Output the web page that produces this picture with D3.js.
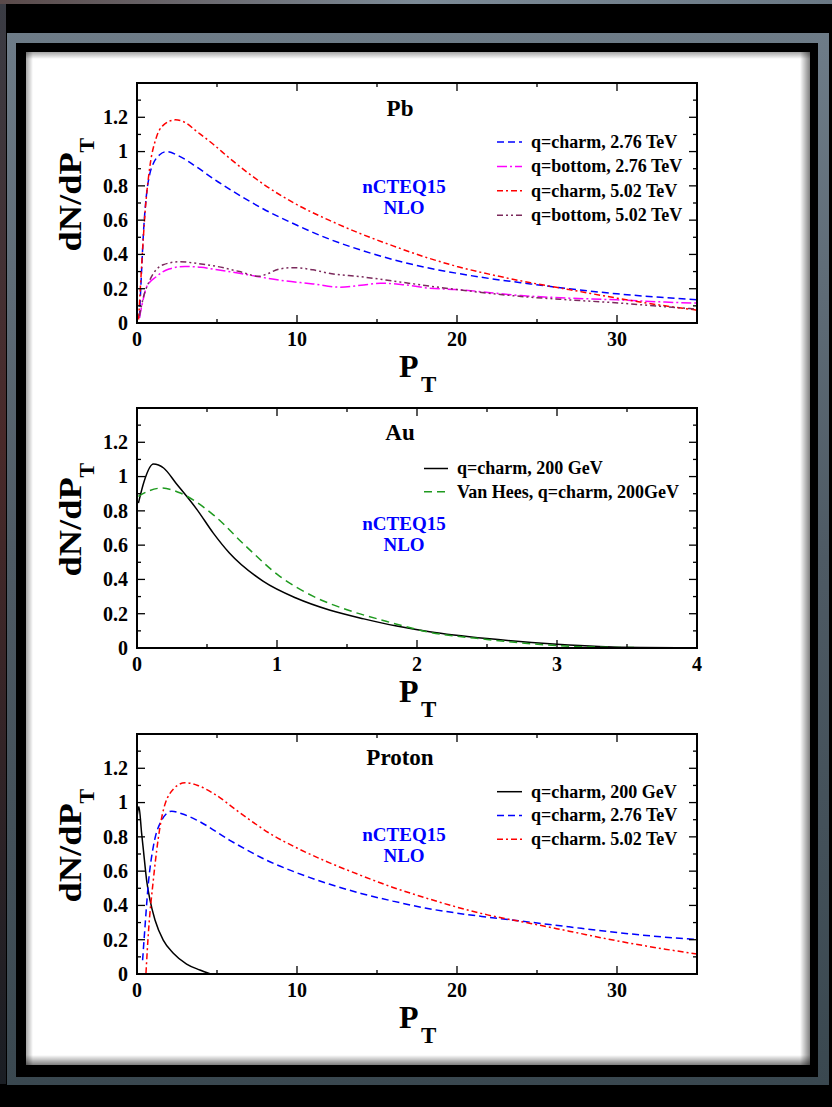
<!DOCTYPE html>
<html><head><meta charset="utf-8">
<script src="https://cdn.jsdelivr.net/npm/d3@7/dist/d3.min.js"></script>
<style>
html,body{margin:0;padding:0;background:#000;}
svg{display:block;}
text{font-family:"Liberation Serif","Times New Roman",serif;font-weight:bold;}
</style></head>
<body>
<script>
// ---------- DATA ----------
// Pb panel (x: PT 0..35)
const pbCharm276X = [0.15,0.3,0.4,0.6,0.8,1.02,1.4,1.86,2.6,3.73,4.8,5.8,7.9,10,12,14,16,18,20,22,24.6,27,30,33,35];
const pbCharm276Y = [0.03,0.33,0.52,0.755,0.87,0.93,0.98,1.0,0.975,0.91,0.84,0.78,0.665,0.57,0.49,0.425,0.37,0.325,0.29,0.26,0.228,0.2,0.17,0.148,0.135];
const pbBottom276X = [0.15,0.3,0.6,1.2,2,3,4,4.8,6.4,7.6,8.9,11,12.7,14,15.2,16.5,18.3,20,24,27,30,33,35];
const pbBottom276Y = [0.03,0.1,0.21,0.27,0.315,0.33,0.325,0.314,0.29,0.27,0.25,0.228,0.209,0.22,0.232,0.225,0.203,0.195,0.16,0.145,0.135,0.122,0.116];
const pbCharm502X = [0.1,0.3,0.5,0.8,1.2,1.6,2.4,3,3.7,4.8,5.8,7.9,10,12,14,16,18,20,22,24.6,27,30,33,35];
const pbCharm502Y = [0.02,0.35,0.64,0.91,1.08,1.15,1.185,1.17,1.12,1.04,0.96,0.81,0.69,0.6,0.52,0.45,0.385,0.33,0.285,0.235,0.195,0.145,0.1,0.075];
const pbBottom502X = [0.15,0.4,0.8,1.64,2.7,3.7,5,6.4,7.6,8.1,8.9,9.8,11,12,14,16,18.3,20,24,27,30.2,33,35];
const pbBottom502Y = [0.04,0.15,0.25,0.34,0.358,0.348,0.33,0.30,0.272,0.285,0.315,0.323,0.31,0.29,0.27,0.245,0.215,0.195,0.155,0.135,0.116,0.095,0.081];

// Au panel (x: PT 0..4)
const auCharm200X = [0.01,0.05,0.117,0.19,0.28,0.43,0.545,0.66,0.9,1.14,1.38,1.62,1.855,2.09,2.5,3.0,3.3,3.6,4.0];
const auCharm200Y = [0.845,0.97,1.073,1.05,0.96,0.806,0.67,0.554,0.39,0.29,0.22,0.17,0.128,0.095,0.055,0.022,0.009,0.003,0.001];
const auVanHeesX = [0.01,0.08,0.176,0.31,0.545,0.78,1.02,1.26,1.5,1.74,2.09,2.5,3.0,3.3,3.6,4.0];
const auVanHeesY = [0.884,0.915,0.933,0.904,0.777,0.592,0.418,0.301,0.223,0.165,0.092,0.05,0.014,0.005,0.002,0.001];

// Proton panel (x: PT 0..35)
const pCharm200X = [0.02,0.12,0.29,0.4,0.6,0.81,1.125,1.64,2.27,3.1,3.93,4.6];
const pCharm200Y = [0.93,0.975,0.82,0.723,0.548,0.432,0.315,0.198,0.121,0.058,0.023,0.0];
const pCharm276X = [0.35,0.5,0.71,1.02,1.44,2.17,2.8,3.73,5.8,8.3,10,12,14,16,18,20,21.9,24.6,27,30.2,33,35];
const pCharm276Y = [0.08,0.276,0.529,0.743,0.879,0.95,0.935,0.898,0.78,0.655,0.59,0.525,0.47,0.425,0.385,0.355,0.332,0.302,0.275,0.24,0.215,0.202];
const pCharm502X = [0.56,0.71,1.02,1.44,2.06,3,3.8,4.77,6.44,8.3,10,12,14,16,18,20,21.9,24.6,27,30.2,33,35];
const pCharm502Y = [0.004,0.237,0.548,0.859,1.054,1.116,1.1,1.054,0.94,0.82,0.735,0.65,0.575,0.505,0.445,0.39,0.345,0.295,0.25,0.19,0.145,0.117];

// Ticks
const yTickLabels = ["0","0.2","0.4","0.6","0.8","1","1.2"];
const xTicksWide = [0,10,20,30];
const xTicksAu = [0,1,2,3,4];

// Legends / labels
const pbLegend = ["q=charm, 2.76 TeV","q=bottom, 2.76 TeV","q=charm, 5.02 TeV","q=bottom, 5.02 TeV"];
const auLegend = ["q=charm, 200 GeV","Van Hees, q=charm, 200GeV"];
const pLegend = ["q=charm, 200 GeV","q=charm, 2.76 TeV","q=charm. 5.02 TeV"];
const panelTitles = ["Pb","Au","Proton"];

// ---------- STYLES ----------
const S = {
  blue:   {stroke:"#0000ff", dash:"7,4"},
  magenta:{stroke:"#ff00ff", dash:"10,3,2,3"},
  red:    {stroke:"#ff0000", dash:"6,3,2,3"},
  purple: {stroke:"#7b2a5c", dash:"6,3,2,3,2,3"},
  black:  {stroke:"#000000", dash:null},
  green:  {stroke:"#1f9a1f", dash:"8,5"}
};

const W = 832, H = 1107;
const svg = d3.select("body").append("svg").attr("width",W).attr("height",H);
const defs = svg.append("defs");

// ---------- FRAME / BACKGROUND ----------
const gFrame = defs.append("linearGradient").attr("id","gframe").attr("x1",0).attr("y1",0).attr("x2",0).attr("y2",1);
gFrame.append("stop").attr("offset","0%").attr("stop-color","#6e7c88");
gFrame.append("stop").attr("offset","50%").attr("stop-color","#4e5a64");
gFrame.append("stop").attr("offset","100%").attr("stop-color","#3a4850");
const gTop = defs.append("linearGradient").attr("id","gtop").attr("x1",0).attr("y1",0).attr("x2",1).attr("y2",0);
gTop.append("stop").attr("offset","0%").attr("stop-color","#5a4a4a");
gTop.append("stop").attr("offset","50%").attr("stop-color","#7c8a96");
gTop.append("stop").attr("offset","100%").attr("stop-color","#6a7884");
const gLeft = defs.append("linearGradient").attr("id","gleft").attr("x1",0).attr("y1",0).attr("x2",0).attr("y2",1);
gLeft.append("stop").attr("offset","0%").attr("stop-color","#3a3c44");
gLeft.append("stop").attr("offset","40%").attr("stop-color","#4a2a2a");
gLeft.append("stop").attr("offset","100%").attr("stop-color","#1a1e24");

svg.append("rect").attr("x",0).attr("y",0).attr("width",W).attr("height",H).attr("fill","#000");
svg.append("rect").attr("x",0).attr("y",0).attr("width",W).attr("height",4).attr("fill","url(#gtop)");
svg.append("rect").attr("x",0).attr("y",4).attr("width",6).attr("height",1080).attr("fill","url(#gleft)");
svg.append("rect").attr("x",7).attr("y",33).attr("width",822).attr("height",1052).attr("fill","url(#gframe)");
svg.append("rect").attr("x",16).attr("y",43).attr("width",802).attr("height",1034).attr("fill","#000");
svg.append("rect").attr("x",26).attr("y",52).attr("width",784).attr("height",1013).attr("fill","#fff");

function edgeGrad(id,x1,y1,x2,y2,op){
  const g = defs.append("linearGradient").attr("id",id).attr("x1",x1).attr("y1",y1).attr("x2",x2).attr("y2",y2);
  g.append("stop").attr("offset","0%").attr("stop-color","#000").attr("stop-opacity",op);
  g.append("stop").attr("offset","100%").attr("stop-color","#000").attr("stop-opacity",0);
}
edgeGrad("eL",0,0,1,0,0.35); edgeGrad("eT",0,0,0,1,0.35);
edgeGrad("eR",1,0,0,0,0.5); edgeGrad("eB",0,1,0,0,0.5);
svg.append("rect").attr("x",26).attr("y",52).attr("width",7).attr("height",1013).attr("fill","url(#eL)");
svg.append("rect").attr("x",26).attr("y",52).attr("width",784).attr("height",7).attr("fill","url(#eT)");
svg.append("rect").attr("x",800).attr("y",52).attr("width",10).attr("height",1013).attr("fill","url(#eR)");
svg.append("rect").attr("x",26).attr("y",1055).attr("width",784).attr("height",10).attr("fill","url(#eB)");

// ---------- PANELS ----------
const L = 137, R = 697;
function zip(xs,ys){ return xs.map((x,i)=>[x,ys[i]]); }

function panel(cfg){
  const {top,bottom,xMax,xMajor,xMinorStep,series,legend,legendX,legendY0,legendDy,lineLen,title,titleY,ncteqY,id} = cfg;
  const x = d3.scaleLinear().domain([0,xMax]).range([L,R]);
  const y = d3.scaleLinear().domain([0,1.4]).range([bottom,top]);
  const g = svg.append("g");

  defs.append("clipPath").attr("id","clip"+id).append("rect")
    .attr("x",L).attr("y",top).attr("width",R-L).attr("height",bottom-top);

  // curves
  const line = d3.line().x(d=>x(d[0])).y(d=>y(d[1])).curve(d3.curveMonotoneX);
  const cg = g.append("g").attr("clip-path","url(#clip"+id+")");
  series.forEach(s=>{
    cg.append("path").datum(zip(s.x,s.y)).attr("d",line)
      .attr("fill","none").attr("stroke",s.style.stroke).attr("stroke-width",1.5)
      .attr("stroke-dasharray",s.style.dash);
  });

  // axes with inward ticks
  const yMaj = d3.range(0,1.41,0.2), yMin = d3.range(0.1,1.4,0.2);
  const xMin = d3.range(xMinorStep, xMax+1e-9, xMinorStep*2);
  const tk = g.append("g").attr("stroke","#000").attr("stroke-width",1.3);
  yMaj.forEach(v=>{
    tk.append("line").attr("x1",L).attr("x2",L+8).attr("y1",y(v)).attr("y2",y(v));
    tk.append("line").attr("x1",R).attr("x2",R-8).attr("y1",y(v)).attr("y2",y(v));
  });
  yMin.forEach(v=>{
    tk.append("line").attr("x1",L).attr("x2",L+4).attr("y1",y(v)).attr("y2",y(v));
    tk.append("line").attr("x1",R).attr("x2",R-4).attr("y1",y(v)).attr("y2",y(v));
  });
  xMajor.forEach(v=>{
    tk.append("line").attr("x1",x(v)).attr("x2",x(v)).attr("y1",bottom).attr("y2",bottom-8);
    tk.append("line").attr("x1",x(v)).attr("x2",x(v)).attr("y1",top).attr("y2",top+8);
  });
  xMin.forEach(v=>{
    tk.append("line").attr("x1",x(v)).attr("x2",x(v)).attr("y1",bottom).attr("y2",bottom-4);
    tk.append("line").attr("x1",x(v)).attr("x2",x(v)).attr("y1",top).attr("y2",top+4);
  });
  g.append("rect").attr("x",L).attr("y",top).attr("width",R-L).attr("height",bottom-top)
    .attr("fill","none").attr("stroke","#000").attr("stroke-width",2);

  // tick labels
  yTickLabels.forEach(t=>{
    g.append("text").attr("x",128).attr("y",y(+t)).attr("dy","0.34em")
      .attr("text-anchor","end").attr("font-size",20).text(t);
  });
  xMajor.forEach(v=>{
    g.append("text").attr("x",x(v)).attr("y",bottom+23)
      .attr("text-anchor","middle").attr("font-size",20).text(String(v));
  });

  // axis titles
  const yl = g.append("g").attr("transform",`translate(80.7,${bottom-71.6}) rotate(-90)`);
  const ylt = yl.append("text").attr("x",0).attr("y",0);
  ylt.append("tspan").attr("font-size",32).attr("textLength",99).attr("lengthAdjust","spacingAndGlyphs").text("dN/dP");
  ylt.append("tspan").attr("x",99).attr("y",13).attr("font-size",22).text("T");
  const xlt = g.append("text").attr("x",399).attr("y",bottom+54);
  xlt.append("tspan").attr("font-size",32).text("P");
  xlt.append("tspan").attr("x",421).attr("y",bottom+69).attr("font-size",23).text("T");

  // panel title
  g.append("text").attr("x",400).attr("y",titleY).attr("text-anchor","middle").attr("font-size",23).text(title);
  // nCTEQ15 NLO
  const nt = g.append("text").attr("text-anchor","middle").attr("font-size",19).attr("fill","#0000ff");
  nt.append("tspan").attr("x",404).attr("y",ncteqY-1).text("nCTEQ15");
  nt.append("tspan").attr("x",404).attr("y",ncteqY+20).text("NLO");

  // legend
  legend.forEach((lab,i)=>{
    const ly = legendY0 + i*legendDy;
    const st = series[i].style;
    g.append("line").attr("x1",legendX).attr("x2",legendX+lineLen).attr("y1",ly).attr("y2",ly)
      .attr("stroke",st.stroke).attr("stroke-width",1.5).attr("stroke-dasharray",st.dash);
    g.append("text").attr("x",legendX+lineLen+9).attr("y",ly).attr("dy","0.33em")
      .attr("font-size",18).text(lab);
  });
}

panel({id:1, top:83, bottom:323, xMax:35, xMajor:xTicksWide, xMinorStep:5,
  series:[
    {x:pbCharm276X,y:pbCharm276Y,style:S.blue},
    {x:pbBottom276X,y:pbBottom276Y,style:S.magenta},
    {x:pbCharm502X,y:pbCharm502Y,style:S.red},
    {x:pbBottom502X,y:pbBottom502Y,style:S.purple}],
  legend:pbLegend, legendX:497, legendY0:142, legendDy:24.4, lineLen:25,
  title:panelTitles[0], titleY:116, ncteqY:194});

panel({id:2, top:408, bottom:648, xMax:4, xMajor:xTicksAu, xMinorStep:0.5,
  series:[
    {x:auCharm200X,y:auCharm200Y,style:S.black},
    {x:auVanHeesX,y:auVanHeesY,style:S.green}],
  legend:auLegend, legendX:424, legendY0:468.5, legendDy:23.3, lineLen:24,
  title:panelTitles[1], titleY:440, ncteqY:531});

panel({id:3, top:734, bottom:974, xMax:35, xMajor:xTicksWide, xMinorStep:5,
  series:[
    {x:pCharm200X,y:pCharm200Y,style:S.black},
    {x:pCharm276X,y:pCharm276Y,style:S.blue},
    {x:pCharm502X,y:pCharm502Y,style:S.red}],
  legend:pLegend, legendX:497, legendY0:791.7, legendDy:23.8, lineLen:25,
  title:panelTitles[2], titleY:765, ncteqY:842});
</script>
</body></html>
